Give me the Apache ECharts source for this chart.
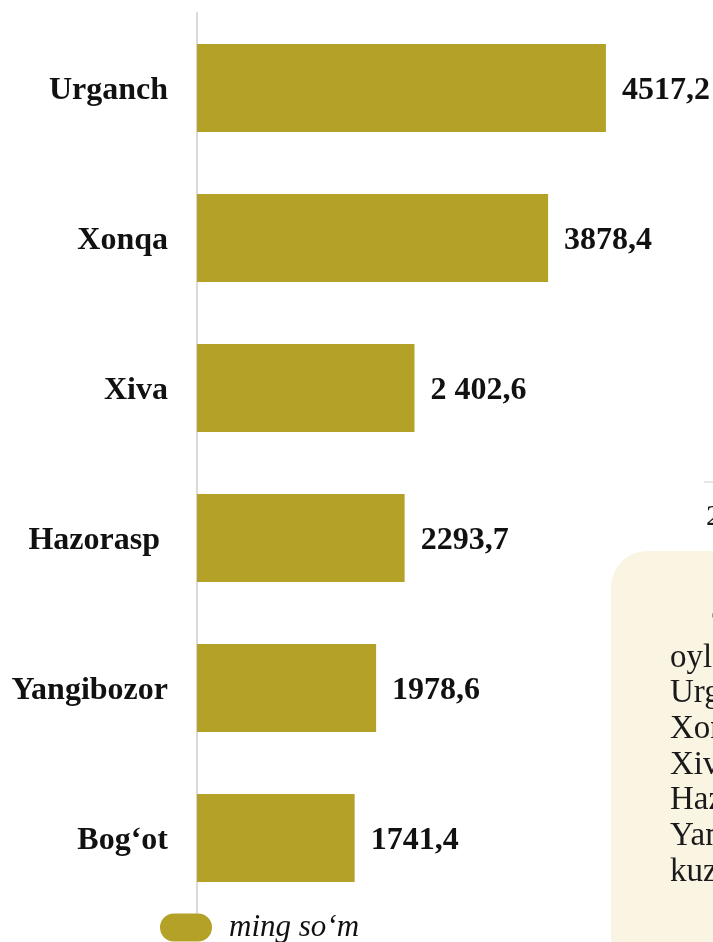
<!DOCTYPE html>
<html>
<head>
<meta charset="utf-8">
<script src="https://cdn.jsdelivr.net/npm/echarts@6/dist/echarts.min.js"></script>
<style>
  html, body { margin: 0; padding: 0; background: #fff; }
  #chart { width: 713px; height: 942px; }
</style>
</head>
<body>
<div id="chart"></div>
<script>
// tumanlar va qiymatlar (ming so'm)
const districts = ["Urganch", "Xonqa", "Xiva", "Hazorasp ", "Yangibozor", "Bog‘ot"];
const values = [4517.2, 3878.4, 2402.6, 2293.7, 1978.6, 1741.4];
const valueLabels = ["4517,2", "3878,4", "2 402,6", "2293,7", "1978,6", "1741,4"];
const unitName = "ming so‘m";
// o'ngdagi qirqilgan matn qatorlari
const sideLines = ["oylik", "Urganch", "Xonqa", "Xiva", "Hazorasp", "Yangibozor", "kuzatildi"];

const FONT = "'Liberation Serif', 'DejaVu Serif', serif";
const GOLD = "#b3a227";

const chart = echarts.init(document.getElementById("chart"));

const sideText = sideLines.map((line, i) => ({
  type: "text",
  x: 670,
  y: 658 + i * 35.7,
  style: {
    text: line,
    font: "33px " + FONT,
    fill: "#1a1a1a",
    verticalAlign: "middle",
  },
  z: 10,
}));

chart.setOption({
  animation: false,
  grid: { left: 197, right: 0, top: 13, height: 900 },
  xAxis: {
    type: "value",
    min: 0,
    max: 5700,
    show: false,
  },
  yAxis: {
    type: "category",
    data: districts,
    inverse: true,
    axisLine: { show: true, lineStyle: { color: "#d9d9d9", width: 2 } },
    axisTick: { show: false },
    axisLabel: {
      margin: 29,
      formatter: (v) => "{t|" + v + "}",
      rich: {
        t: {
          fontFamily: FONT,
          fontSize: 32,
          fontWeight: "bold",
          color: "#111",
          lineHeight: 40,
          padding: [6, 0, 0, 0],
        },
      },
    },
  },
  legend: {
    left: 155,
    top: 907,
    data: [unitName],
    itemWidth: 52,
    itemHeight: 28,
    icon: "path://M14,0 H38 A14,14 0 0 1 38,28 H14 A14,14 0 0 1 14,0 Z",
    textStyle: {
      fontFamily: FONT,
      fontSize: 31,
      fontStyle: "italic",
      color: "#111",
      padding: [0, 0, 0, 12],
    },
  },
  series: [
    {
      name: unitName,
      type: "bar",
      data: values,
      barWidth: 88,
      itemStyle: { color: GOLD },
      label: {
        show: true,
        position: "right",
        distance: 16,
        offset: [0, 3],
        fontFamily: FONT,
        fontSize: 32,
        fontWeight: "bold",
        color: "#111",
        formatter: (p) => valueLabels[p.dataIndex],
      },
    },
  ],
  graphic: [
    {
      type: "rect",
      left: 611,
      top: 551,
      shape: { width: 140, height: 420, r: 36 },
      style: { fill: "#faf4e3" },
      z: 5,
    },
    {
      type: "line",
      shape: { x1: 704, y1: 482, x2: 713, y2: 482 },
      style: { stroke: "#cccccc", lineWidth: 1 },
    },
    {
      type: "text",
      x: 706,
      y: 517,
      style: { text: "2", font: "30px " + FONT, fill: "#1a1a1a", verticalAlign: "middle" },
    },
    {
      type: "text",
      x: 709,
      y: 622,
      style: { text: "‘", font: "30px " + FONT, fill: "#999", verticalAlign: "middle" },
      z: 10,
    },
  ].concat(sideText),
});
</script>
</body>
</html>
